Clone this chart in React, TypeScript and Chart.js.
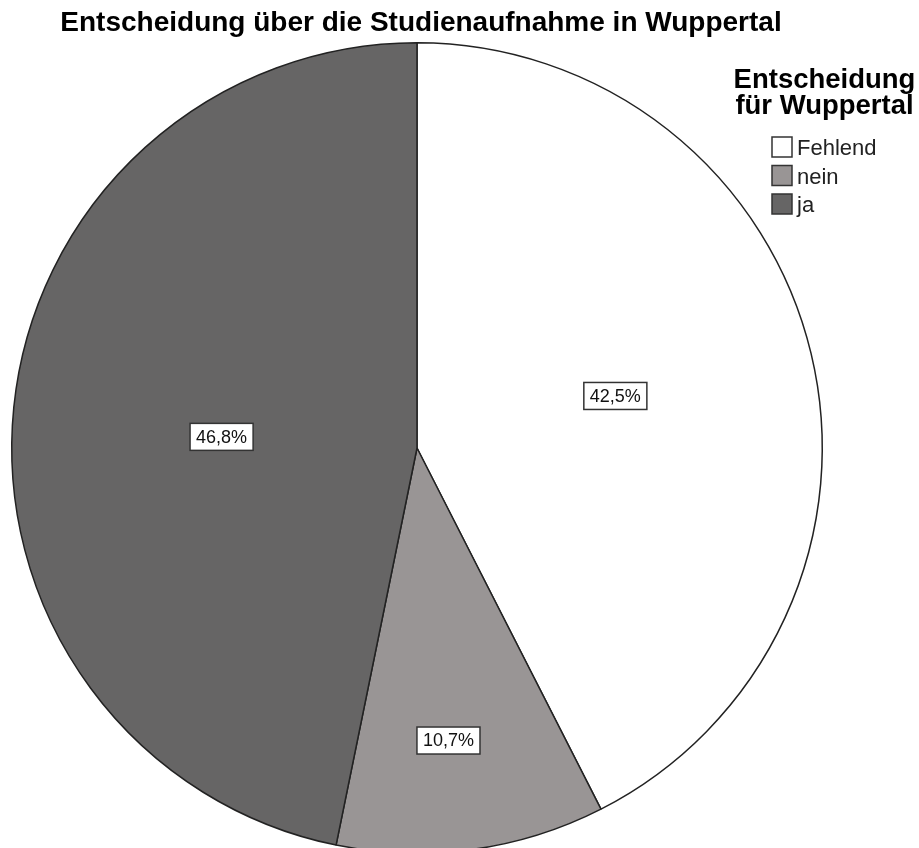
import React, { useEffect, useRef } from "react";
import { Chart, registerables } from "chart.js";

Chart.register(...registerables);

const categories = ["Fehlend", "nein", "ja"];
const percentages = [42.5, 10.7, 46.8];
const sliceColors = ["#ffffff", "#999595", "#666565"];
const chartTitle = "Entscheidung über die Studienaufnahme in Wuppertal";
const legendTitle = ["Entscheidung", "für Wuppertal"];
const labelRadiusFraction = [0.506, 0.726, 0.483];
const labelAngleOffsetDeg = [-1.2, 1.6, -2.5];

const FONT = "Arial, 'Liberation Sans', sans-serif";

const overlayPlugin = {
  id: "overlay",
  afterDraw(chart: any) {
    const ctx = chart.ctx as CanvasRenderingContext2D;
    ctx.save();
    // Title
    ctx.fillStyle = "#000";
    ctx.font = `bold 28px ${FONT}`;
    ctx.textAlign = "center";
    ctx.textBaseline = "alphabetic";
    ctx.fillText(chartTitle, 421, 31);

    // Legend title
    ctx.font = `bold 27.5px ${FONT}`;
    ctx.fillText(legendTitle[0], 824.5, 88);
    ctx.fillText(legendTitle[1], 824.5, 114);

    // Legend items
    ctx.textAlign = "left";
    ctx.font = `22px ${FONT}`;
    categories.forEach((c, i) => {
      const y = 137 + i * 28.5;
      ctx.fillStyle = sliceColors[i];
      ctx.fillRect(772, y, 20, 20);
      ctx.strokeStyle = "#333";
      ctx.lineWidth = 1.5;
      ctx.strokeRect(772, y, 20, 20);
      ctx.fillStyle = "#222";
      ctx.fillText(c, 797, y + 18);
    });

    // Percentage labels
    const meta = chart.getDatasetMeta(0);
    ctx.font = `18px ${FONT}`;
    ctx.textAlign = "center";
    ctx.textBaseline = "middle";
    meta.data.forEach((arc: any, i: number) => {
      const p = arc.getProps(["x", "y", "startAngle", "endAngle", "outerRadius"], true);
      const mid = (p.startAngle + p.endAngle) / 2 + (labelAngleOffsetDeg[i] * Math.PI) / 180;
      const r = p.outerRadius * labelRadiusFraction[i];
      const x = p.x + Math.cos(mid) * r;
      const y = p.y + Math.sin(mid) * r;
      const txt = percentages[i].toFixed(1).replace(".", ",") + "%";
      const w = ctx.measureText(txt).width + 12;
      const h = 27;
      ctx.fillStyle = "#fff";
      ctx.fillRect(x - w / 2, y - h / 2, w, h);
      ctx.strokeStyle = "#333";
      ctx.lineWidth = 1.5;
      ctx.strokeRect(x - w / 2, y - h / 2, w, h);
      ctx.fillStyle = "#111";
      ctx.fillText(txt, x, y + 1);
    });
    ctx.restore();
  },
};

export default function App() {
  const ref = useRef<HTMLCanvasElement>(null);
  useEffect(() => {
    if (!ref.current) return;
    const chart = new Chart(ref.current, {
      type: "pie",
      data: {
        labels: categories,
        datasets: [
          {
            data: percentages,
            backgroundColor: sliceColors,
            borderColor: "#222",
            borderWidth: 1.5,
          },
        ],
      },
      options: {
        responsive: false,
        maintainAspectRatio: false,
        animation: false,
        devicePixelRatio: 1,
        layout: { padding: { left: 11, right: 96, top: 42, bottom: 6 } },
        plugins: {
          legend: { display: false },
          title: { display: false },
          tooltip: { enabled: false },
        },
      },
      plugins: [overlayPlugin],
    });
    return () => chart.destroy();
  }, []);
  return (
    <div
      style={{
        position: "absolute",
        left: 0,
        top: 0,
        width: 919,
        height: 848,
        overflow: "hidden",
        background: "#fff",
      }}
    >
      <canvas ref={ref} width={919} height={860} style={{ width: 919, height: 860, display: "block" }} />
    </div>
  );
}
